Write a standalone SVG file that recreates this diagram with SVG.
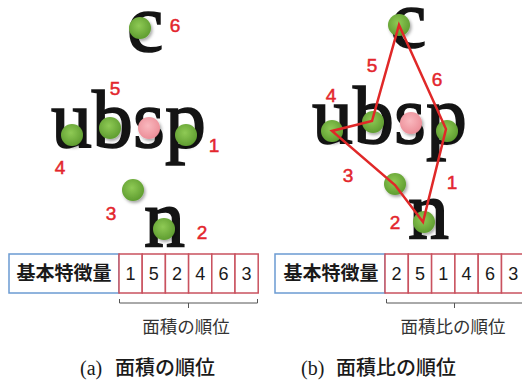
<svg xmlns="http://www.w3.org/2000/svg" width="522" height="383" viewBox="0 0 522 383">
<style>
.let{font-family:"Liberation Serif","DejaVu Serif",serif;font-size:82px;fill:#141414;stroke:#141414;stroke-width:1.6}
.num{font-family:"Liberation Sans","Noto Sans",sans-serif;font-size:19px;fill:#e3262d;stroke:#e3262d;stroke-width:0.5}
.cjkb{font-family:"Noto Sans CJK JP",sans-serif;font-size:19px;font-weight:bold;fill:#1a1a1a}
.dig{font-family:"Liberation Sans","Noto Sans",sans-serif;font-size:18px;fill:#1a1a1a;text-anchor:middle}
.lab{font-family:"Noto Sans CJK JP",sans-serif;font-size:17.5px;fill:#333;text-anchor:middle}
.cap{font-family:"Noto Sans CJK JP",sans-serif;font-size:20px;font-weight:500;fill:#1a1a1a}
.capl{font-family:"Liberation Serif","DejaVu Serif",serif;font-size:20px;fill:#1a1a1a}
.g{fill:url(#gg);filter:url(#sh)}
.p{fill:url(#pg);filter:url(#sh)}
.blue{fill:#fff;stroke:#6b9bd2;stroke-width:1.5}
.red{fill:#fff;stroke:#c9525f;stroke-width:1.5}
.br{fill:none;stroke:#555;stroke-width:1}
.poly{fill:none;stroke:#e02828;stroke-width:2.5;stroke-linejoin:miter}
</style>
<defs>
<radialGradient id="gg" cx="0.45" cy="0.4" r="0.6">
<stop offset="0" stop-color="#8fca55"/>
<stop offset="1" stop-color="#5f9d30"/>
</radialGradient>
<radialGradient id="pg" cx="0.45" cy="0.4" r="0.6">
<stop offset="0" stop-color="#f9b8be"/>
<stop offset="1" stop-color="#ec8e98"/>
</radialGradient>
<filter id="sh" x="-50%" y="-50%" width="200%" height="200%">
<feDropShadow dx="1.5" dy="2" stdDeviation="1.5" flood-color="#000" flood-opacity="0.35"/>
</filter>
</defs>
<rect width="522" height="383" fill="#fff"/>

<!-- Panel (a) -->
<g id="a-letters">
<text class="let" x="127" y="51">c</text>
<text class="let" x="51" y="147">ubsp</text>
<text class="let" x="144" y="246">n</text>
</g>
<g id="a-dots">
<circle id="a-dot6" class="g" cx="140" cy="28" r="11"/>
<circle id="a-dot5" class="g" cx="110" cy="128" r="11"/>
<circle id="a-center" class="p" cx="149" cy="128" r="11"/>
<circle id="a-dot1" class="g" cx="186" cy="135" r="11"/>
<circle id="a-dot4" class="g" cx="72" cy="135" r="11"/>
<circle id="a-dot3" class="g" cx="133" cy="190" r="11"/>
<circle id="a-dot2" class="g" cx="164" cy="229" r="11"/>
</g>
<g id="a-labels" text-anchor="middle">
<text class="num" x="175" y="32">6</text>
<text class="num" x="115" y="95">5</text>
<text class="num" x="214" y="152">1</text>
<text class="num" x="60" y="174">4</text>
<text class="num" x="111" y="220">3</text>
<text class="num" x="202" y="239">2</text>
</g>

<!-- Panel (b) -->
<g id="b-letters">
<text class="let" x="390" y="47">c</text>
<text class="let" x="312" y="143">ubsp</text>
<text class="let" x="408" y="238">n</text>
</g>
<g id="b-dots">
<circle id="b-dot6" class="g" cx="399" cy="25" r="11"/>
<circle id="b-dot5" class="g" cx="373" cy="122" r="11"/>
<circle id="b-center" class="p" cx="411" cy="123" r="11"/>
<circle id="b-dot1" class="g" cx="447" cy="131" r="11"/>
<circle id="b-dot4" class="g" cx="332" cy="131" r="11"/>
<circle id="b-dot3" class="g" cx="395" cy="184" r="11"/>
<circle id="b-dot2" class="g" cx="424" cy="222" r="11"/>
</g>
<g id="connectors">
<polygon class="poly" points="399,25 446,129 423,222 395,185 332,131 372,121"/>
</g>
<g id="b-labels" text-anchor="middle">
<text class="num" x="372" y="72">5</text>
<text class="num" x="437" y="86">6</text>
<text class="num" x="331" y="102">4</text>
<text class="num" x="348" y="182">3</text>
<text class="num" x="452" y="189">1</text>
<text class="num" x="395" y="229">2</text>
</g>

<!-- Table (a) -->
<g id="a-table">
<rect class="blue" x="9" y="254" width="110" height="39"/>
<text class="cjkb" x="64" y="280" text-anchor="middle">基本特徴量</text>
<rect class="red" x="119" y="254" width="23.2" height="39"/>
<rect class="red" x="142.2" y="254" width="23.2" height="39"/>
<rect class="red" x="165.4" y="254" width="23.2" height="39"/>
<rect class="red" x="188.6" y="254" width="23.2" height="39"/>
<rect class="red" x="211.8" y="254" width="23.2" height="39"/>
<rect class="red" x="235" y="254" width="23.2" height="39"/>
<text class="dig" x="130.6" y="280">1</text>
<text class="dig" x="153.8" y="280">5</text>
<text class="dig" x="177" y="280">2</text>
<text class="dig" x="200.2" y="280">4</text>
<text class="dig" x="223.4" y="280">6</text>
<text class="dig" x="246.6" y="280">3</text>
<path class="br" d="M119.5,299 V303 H257.5 V299 M188.5,303 V308"/>
<text class="lab" x="186" y="333">面積の順位</text>
</g>

<!-- Table (b) -->
<g id="b-table">
<rect class="blue" x="275" y="254" width="110" height="39"/>
<text class="cjkb" x="331" y="280" text-anchor="middle">基本特徴量</text>
<rect class="red" x="385" y="254" width="23.3" height="39"/>
<rect class="red" x="408.3" y="254" width="23.3" height="39"/>
<rect class="red" x="431.6" y="254" width="23.3" height="39"/>
<rect class="red" x="454.9" y="254" width="23.3" height="39"/>
<rect class="red" x="478.2" y="254" width="23.3" height="39"/>
<rect class="red" x="501.5" y="254" width="23.3" height="39"/>
<text class="dig" x="396.6" y="280">2</text>
<text class="dig" x="420" y="280">5</text>
<text class="dig" x="443.3" y="280">1</text>
<text class="dig" x="466.6" y="280">4</text>
<text class="dig" x="489.9" y="280">6</text>
<text class="dig" x="513.2" y="280">3</text>
<path class="br" d="M386.5,299 V303 H522 M454.5,303 V308"/>
<text class="lab" x="453" y="333">面積比の順位</text>
</g>

<!-- Captions -->
<g id="captions">
<text class="capl" x="80" y="375">(a)</text>
<text class="cap" x="115" y="375">面積の順位</text>
<text class="capl" x="301" y="375">(b)</text>
<text class="cap" x="336" y="375">面積比の順位</text>
</g>
</svg>
